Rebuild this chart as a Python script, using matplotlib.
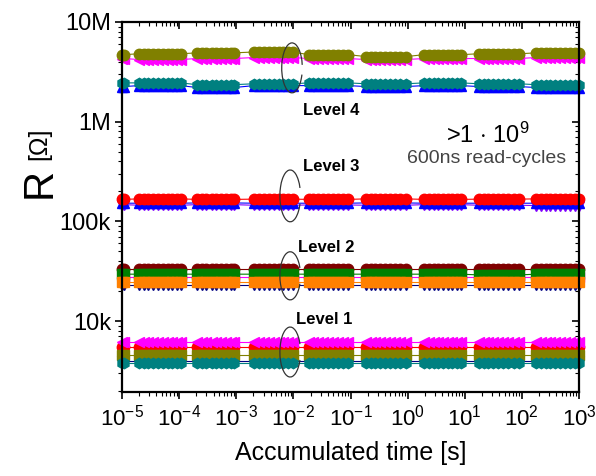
import matplotlib
matplotlib.use("Agg")
import matplotlib.pyplot as plt
from matplotlib.patches import Arc
from matplotlib.ticker import LogLocator, NullFormatter

plt.rcParams['font.family'] = ['Liberation Sans', 'DejaVu Sans']
plt.rcParams['mathtext.fontset'] = 'custom'
plt.rcParams['mathtext.rm'] = 'Liberation Sans'
plt.rcParams['mathtext.it'] = 'Liberation Sans:italic'
plt.rcParams['mathtext.bf'] = 'Liberation Sans:bold'

# read bursts (accumulated time, s)
bursts = [
    [1.0e-5, 1.07e-5],
    [2.0e-5, 2.4e-5, 2.9e-5, 3.5e-5, 4.3e-5, 5.2e-5, 6.3e-5, 7.6e-5, 9.0e-5, 1.07e-4],
    [2.05e-4, 2.5e-4, 3.0e-4, 3.7e-4, 4.5e-4, 5.5e-4, 6.7e-4, 8.0e-4, 9.1e-4],
    [2.05e-3, 2.5e-3, 3.0e-3, 3.7e-3, 4.5e-3, 5.5e-3, 6.7e-3, 8.2e-3, 9.8e-3],
    [1.86e-2, 2.25e-2, 2.7e-2, 3.3e-2, 4.0e-2, 4.9e-2, 6.0e-2, 7.4e-2, 9.1e-2],
    [0.186, 0.225, 0.27, 0.33, 0.40, 0.49, 0.60, 0.75, 0.93],
    [1.95, 2.35, 2.85, 3.4, 4.1, 5.0, 6.0, 7.2, 8.5],
    [17.8, 21.5, 26, 31.5, 38, 46, 56, 72, 89],
    [178, 215, 260, 315, 380, 460, 560, 700, 860, 1000],
]

# resistance per burst for each cell (ohm)
l4_magenta = [4.3e6, 4.2e6, 4.3e6, 4.4e6, 4.3e6, 4.2e6, 4.3e6, 4.3e6, 4.4e6]
l4_olive = [4.7e6, 4.8e6, 4.9e6, 5.0e6, 4.7e6, 4.5e6, 4.7e6, 4.8e6, 4.9e6]
l4_blue = [2.25e6, 2.3e6, 2.2e6, 2.3e6, 2.3e6, 2.25e6, 2.3e6, 2.25e6, 2.2e6]
l4_teal = [2.45e6, 2.45e6, 2.35e6, 2.4e6, 2.45e6, 2.4e6, 2.45e6, 2.4e6, 2.35e6]
l3_violet = [1.47e5, 1.45e5, 1.47e5, 1.45e5, 1.46e5, 1.45e5, 1.47e5, 1.45e5, 1.44e5]
l3_blue = [1.52e5, 1.52e5, 1.53e5, 1.52e5, 1.52e5, 1.53e5, 1.52e5, 1.52e5, 1.52e5]
l3_red = [1.66e5, 1.68e5, 1.66e5, 1.67e5, 1.66e5, 1.68e5, 1.66e5, 1.67e5, 1.68e5]
l2_navy = [2.3e4, 2.3e4, 2.3e4, 2.3e4, 2.3e4, 2.3e4, 2.3e4, 2.3e4, 2.3e4]
l2_magenta = [2.75e4, 2.75e4, 2.75e4, 2.75e4, 2.75e4, 2.75e4, 2.75e4, 2.75e4, 2.75e4]
l2_darkred = [3.3e4, 3.3e4, 3.3e4, 3.3e4, 3.3e4, 3.3e4, 3.3e4, 3.3e4, 3.3e4]
l2_green = [2.95e4, 2.95e4, 2.95e4, 2.95e4, 2.95e4, 2.95e4, 2.95e4, 2.9e4, 2.95e4]
l2_orange = [2.45e4, 2.45e4, 2.45e4, 2.45e4, 2.45e4, 2.45e4, 2.45e4, 2.45e4, 2.45e4]
l1_red = [5.5e3, 5.5e3, 5.5e3, 5.5e3, 5.5e3, 5.5e3, 5.5e3, 5.5e3, 5.5e3]
l1_magenta = [6.1e3, 6.1e3, 6.1e3, 6.1e3, 6.1e3, 6.1e3, 6.1e3, 6.1e3, 6.1e3]
l1_navy = [4.0e3, 4.0e3, 4.0e3, 4.0e3, 4.0e3, 4.0e3, 4.0e3, 4.0e3, 4.0e3]
l1_olive = [4.6e3, 4.6e3, 4.6e3, 4.6e3, 4.6e3, 4.6e3, 4.6e3, 4.6e3, 4.6e3]
l1_teal = [3.8e3, 3.8e3, 3.8e3, 3.8e3, 3.8e3, 3.8e3, 3.8e3, 3.8e3, 3.8e3]

series = [
    (l4_magenta, '#ff00ff', '<'),
    (l4_olive, '#808000', 'o'),
    (l4_blue, '#0000ff', '^'),
    (l4_teal, '#008080', 'h'),
    (l3_violet, '#8000ff', 'v'),
    (l3_blue, '#0000ff', '^'),
    (l3_red, '#ff0000', 'o'),
    (l2_navy, '#000080', 'v'),
    (l2_magenta, '#ff00ff', '<'),
    (l2_darkred, '#800000', 'o'),
    (l2_green, '#008000', 's'),
    (l2_orange, '#ff8000', 's'),
    (l1_red, '#ff0000', 'o'),
    (l1_magenta, '#ff00ff', '<'),
    (l1_navy, '#000080', 'v'),
    (l1_olive, '#808000', 's'),
    (l1_teal, '#008080', 'h'),
]

level_labels = ["Level 4", "Level 3", "Level 2", "Level 1"]

fig = plt.figure(figsize=(5.96, 4.76), dpi=100)
ax = fig.add_axes([0.2047, 0.1765, 0.7668, 0.7773])

for vals, color, mk in series:
    t_all, r_all = [], []
    for b, v in zip(bursts, vals):
        t_all += b
        r_all += [v] * len(b)
    ax.plot(t_all, r_all, color=color, lw=0.8, marker=mk, ms=7.5,
            mec=color, mfc=color, clip_on=False)

ax.set_xscale('log')
ax.set_yscale('log')
ax.set_xlim(1e-5, 1e3)
ax.set_ylim(1.94e3, 1e7)

ax.set_xticks([10.0 ** k for k in range(-5, 4)])
ax.set_xticklabels([r'$10^{%d}$' % k for k in range(-5, 4)])
ax.set_yticks([1e4, 1e5, 1e6, 1e7])
ax.set_yticklabels(['10k', '100k', '1M', '10M'])
ax.xaxis.set_minor_locator(LogLocator(base=10, subs=range(2, 10), numticks=20))
ax.yaxis.set_minor_locator(LogLocator(base=10, subs=range(2, 10), numticks=20))
ax.xaxis.set_minor_formatter(NullFormatter())
ax.yaxis.set_minor_formatter(NullFormatter())

ax.tick_params(axis='both', which='major', direction='out', length=5, width=1.2)
ax.tick_params(axis='both', which='minor', direction='out', length=3, width=0.8)
ax.tick_params(axis='y', which='major', labelsize=17, pad=3)
ax.tick_params(axis='x', which='major', labelsize=16, pad=4)
ax.tick_params(top=True, right=True, which='both')
for spine in ax.spines.values():
    spine.set_linewidth(1.6)

# top/right ticks point inward
for tick in ax.xaxis.get_major_ticks() + ax.xaxis.get_minor_ticks():
    tick.tick2line.set_marker(matplotlib.lines.TICKDOWN)
for tick in ax.yaxis.get_major_ticks() + ax.yaxis.get_minor_ticks():
    tick.tick2line.set_marker(matplotlib.lines.TICKLEFT)

ax.set_xlabel('Accumulated time [s]', fontsize=18, labelpad=8)
fig.text(0.067, 0.615, 'R', rotation=90, fontsize=30, ha='center', va='center')
fig.text(0.066, 0.697, '[Ω]', rotation=90, fontsize=18, ha='center', va='center')

# brackets around each level
arcs = [(0.372, 0.876, 0.135, 20, 320), (0.368, 0.530, 0.14, 45, 315),
        (0.368, 0.314, 0.13, 45, 315), (0.368, 0.108, 0.135, 45, 315)]
for x, y, h, t1, t2 in arcs:
    ax.add_patch(Arc((x, y), 0.045, h, theta1=t1, theta2=t2,
                     transform=ax.transAxes, color='#333333', lw=0.9, zorder=5))

label_pos = [(0.395, 0.76), (0.395, 0.61), (0.385, 0.39), (0.38, 0.195)]
for txt, (x, y) in zip(level_labels, label_pos):
    ax.text(x, y, txt, transform=ax.transAxes, fontsize=12, fontweight='bold',
            ha='left', va='center')

ax.text(0.80, 0.695, r'>1 $\cdot$ 10$^{9}$', transform=ax.transAxes,
        fontsize=17, ha='center', va='center')
ax.text(0.797, 0.631, '600ns read-cycles', transform=ax.transAxes,
        fontsize=14, color='#444444', ha='center', va='center')

fig.savefig('out.png', dpi=100)
